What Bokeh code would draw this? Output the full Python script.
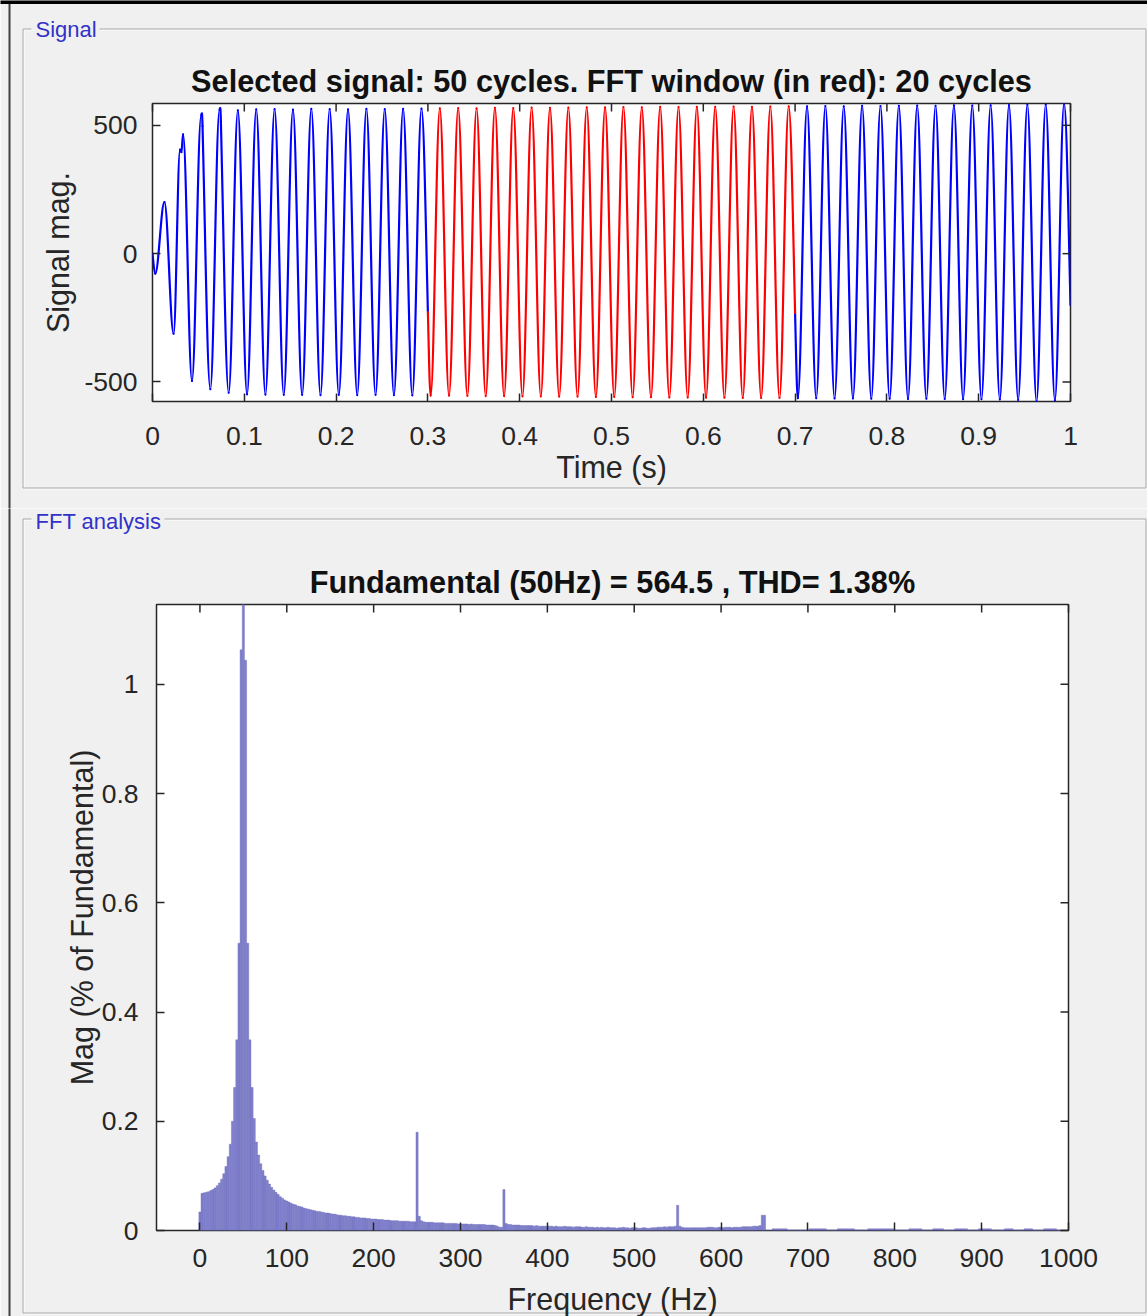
import numpy as np
from bokeh.plotting import figure
from bokeh.models import Range1d, FixedTicker, CustomJSTickFormatter, ColumnDataSource
from bokeh.layouts import column, row
from bokeh.embed import file_html
from bokeh.resources import INLINE
from bokeh.core.properties import value

# ------------------------------------------------------------------ data
# Signal panel: times (s) and magnitudes of the waveform turning points
sig_time = [
    0.000, 0.003, 0.013, 0.023, 0.030, 0.0315, 0.0333, 0.043, 0.053, 0.0545,
    0.063, 0.073, 0.0745, 0.083, 0.093, 0.103, 0.113, 0.123, 0.133, 0.143,
    0.153, 0.163, 0.173, 0.183, 0.193, 0.203, 0.213, 0.223, 0.233, 0.243,
    0.253, 0.263, 0.273, 0.283, 0.293, 0.300, 0.303, 0.313, 0.323, 0.333,
    0.343, 0.353, 0.363, 0.373, 0.383, 0.393, 0.403, 0.413, 0.423, 0.433,
    0.443, 0.453, 0.463, 0.473, 0.483, 0.493, 0.503, 0.513, 0.523, 0.533,
    0.543, 0.553, 0.563, 0.573, 0.583, 0.593, 0.603, 0.613, 0.623, 0.633,
    0.643, 0.653, 0.663, 0.673, 0.683, 0.693, 0.700, 0.703, 0.713, 0.723,
    0.733, 0.743, 0.753, 0.763, 0.773, 0.783, 0.793, 0.803, 0.813, 0.823,
    0.833, 0.843, 0.853, 0.863, 0.873, 0.883, 0.893, 0.903, 0.913, 0.923,
    0.933, 0.943, 0.953, 0.963, 0.973, 0.983, 0.993, 1.000,
]
sig_mag = [
    0, -78, 201, -312, 405, 395, 465, -496, 539, 497,
    -528, 561, 515, -542, 558, -548, 562, -549, 563, -550,
    561, -550, 564, -551, 563, -550, 562, -551, 564, -550,
    563, -551, 564, -552, 565, -228, -553, 566, -553, 567,
    -554, 566, -555, 568, -555, 567, -556, 569, -556, 568,
    -557, 569, -557, 570, -558, 570, -558, 571, -559, 570,
    -559, 572, -560, 571, -560, 572, -561, 572, -561, 573,
    -562, 572, -562, 573, -562, 574, -232, -563, 574, -563,
    575, -564, 574, -564, 576, -565, 575, -565, 576, -566,
    577, -565, 576, -566, 578, -567, 577, -567, 578, -568,
    579, -570, 580, -576, 581, -571, 585, -200,
]
fft_window = [0.3, 0.7]
sig_xticks = [0, 0.1, 0.2, 0.3, 0.4, 0.5, 0.6, 0.7, 0.8, 0.9, 1]
sig_yticks = [-500, 0, 500]
sig_title = "Selected signal: 50 cycles. FFT window (in red): 20 cycles"

# FFT panel: magnitude per 2.5 Hz bin
fft_bin_hz = 2.5
fft_mag_000 = [
    0.034, 0.068, 0.069, 0.070, 0.071, 0.073, 0.075, 0.078, 0.082, 0.087,
    0.094, 0.104, 0.117, 0.135, 0.158, 0.200, 0.262, 0.349, 0.526, 1.063,
    1.146, 1.044, 0.526, 0.349, 0.262, 0.205, 0.162, 0.138, 0.122, 0.110,
    0.100, 0.092, 0.085, 0.079, 0.074, 0.070, 0.066, 0.062, 0.059, 0.056,
]
fft_mag_100 = [
    0.054, 0.052, 0.050, 0.048, 0.047, 0.045, 0.044, 0.043, 0.041, 0.040,
    0.039, 0.038, 0.037, 0.036, 0.035, 0.035, 0.034, 0.033, 0.032, 0.032,
    0.031, 0.030, 0.030, 0.029, 0.028, 0.028, 0.027, 0.027, 0.026, 0.026,
    0.025, 0.025, 0.024, 0.024, 0.023, 0.023, 0.023, 0.022, 0.022, 0.021,
]
fft_mag_200 = [
    0.021, 0.021, 0.020, 0.020, 0.020, 0.019, 0.019, 0.019, 0.018, 0.018,
    0.018, 0.018, 0.017, 0.017, 0.017, 0.017, 0.017, 0.016, 0.016, 0.016,
    0.180, 0.026, 0.018, 0.016, 0.015, 0.015, 0.015, 0.015, 0.014, 0.014,
    0.014, 0.014, 0.014, 0.013, 0.013, 0.013, 0.013, 0.013, 0.013, 0.012,
]
fft_mag_300 = [
    0.012, 0.012, 0.012, 0.012, 0.011, 0.012, 0.011, 0.011, 0.011, 0.011,
    0.011, 0.011, 0.010, 0.010, 0.010, 0.010, 0.009, 0.008, 0.006, 0.006,
    0.075, 0.013, 0.011, 0.011, 0.010, 0.010, 0.010, 0.010, 0.009, 0.009,
    0.009, 0.009, 0.009, 0.009, 0.008, 0.009, 0.008, 0.008, 0.008, 0.008,
]
fft_mag_400 = [
    0.008, 0.008, 0.008, 0.007, 0.008, 0.007, 0.007, 0.007, 0.008, 0.007,
    0.007, 0.007, 0.006, 0.007, 0.007, 0.007, 0.006, 0.006, 0.007, 0.006,
    0.006, 0.006, 0.005, 0.006, 0.005, 0.006, 0.005, 0.005, 0.006, 0.005,
    0.005, 0.005, 0.004, 0.005, 0.005, 0.006, 0.005, 0.005, 0.004, 0.005,
]
fft_mag_500 = [
    0.005, 0.005, 0.004, 0.004, 0.005, 0.005, 0.004, 0.004, 0.005, 0.005,
    0.005, 0.006, 0.006, 0.006, 0.007, 0.006, 0.007, 0.007, 0.007, 0.008,
    0.046, 0.008, 0.006, 0.005, 0.005, 0.005, 0.005, 0.005, 0.005, 0.005,
    0.005, 0.005, 0.005, 0.005, 0.006, 0.006, 0.006, 0.005, 0.005, 0.006,
]
fft_mag_600 = [
    0.006, 0.005, 0.006, 0.006, 0.006, 0.005, 0.006, 0.006, 0.006, 0.006,
    0.007, 0.007, 0.007, 0.007, 0.007, 0.008, 0.008, 0.008, 0.009, 0.028,
    0.028, 0.000, 0.000, 0.000, 0.003, 0.003, 0.003, 0.003, 0.003, 0.003,
    0.003, 0.001, 0.001, 0.001, 0.001, 0.001, 0.001, 0.001, 0.001, 0.001,
]
fft_mag_700 = [
    0.001, 0.003, 0.003, 0.003, 0.003, 0.003, 0.003, 0.003, 0.003, 0.001,
    0.001, 0.001, 0.001, 0.001, 0.003, 0.003, 0.003, 0.003, 0.003, 0.003,
    0.003, 0.003, 0.001, 0.001, 0.001, 0.001, 0.001, 0.001, 0.003, 0.003,
    0.003, 0.003, 0.003, 0.003, 0.003, 0.003, 0.003, 0.003, 0.003, 0.003,
]
fft_mag_800 = [
    0.001, 0.001, 0.001, 0.001, 0.001, 0.001, 0.001, 0.003, 0.003, 0.003,
    0.003, 0.003, 0.003, 0.001, 0.001, 0.001, 0.001, 0.001, 0.003, 0.003,
    0.003, 0.003, 0.003, 0.001, 0.001, 0.001, 0.001, 0.001, 0.003, 0.003,
    0.003, 0.003, 0.003, 0.003, 0.001, 0.001, 0.001, 0.001, 0.001, 0.003,
]
fft_mag_900 = [
    0.003, 0.003, 0.003, 0.003, 0.003, 0.001, 0.001, 0.001, 0.001, 0.001,
    0.001, 0.003, 0.003, 0.003, 0.003, 0.001, 0.001, 0.001, 0.001, 0.001,
    0.003, 0.003, 0.003, 0.003, 0.001, 0.001, 0.001, 0.001, 0.001, 0.003,
    0.003, 0.003, 0.003, 0.003, 0.003, 0.001, 0.001, 0.001, 0.001, 0.001,
]
fft_mag_1000 = [0.001]
fft_xticks = [0, 100, 200, 300, 400, 500, 600, 700, 800, 900, 1000]
fft_yticks = [0, 0.2, 0.4, 0.6, 0.8, 1]
fft_title = "Fundamental (50Hz) = 564.5 , THD= 1.38%"

# ------------------------------------------------------------------ style
FONT = "Liberation Sans"
AX = "#262626"
BG = "#f0f0f0"
GROUP_BLUE = "#3232c8"
TICK_PX = "26.5px"
LABEL_PX = "30.5px"
TITLE_PX = "30.7px"


def style_axis(ax, ticks, standoff):
    ax.ticker = FixedTicker(ticks=ticks)
    ax.formatter = CustomJSTickFormatter(code="return String(tick);")
    ax.axis_line_color = None
    ax.major_tick_in = 8
    ax.major_tick_out = 0
    ax.major_tick_line_color = AX
    ax.major_tick_line_width = 1.5
    ax.minor_tick_line_color = None
    ax.major_label_text_font = FONT
    ax.major_label_text_color = AX
    ax.major_label_text_font_size = TICK_PX
    ax.major_label_standoff = standoff
    ax.axis_label_text_font = FONT
    ax.axis_label_text_font_style = "normal"
    ax.axis_label_text_font_size = LABEL_PX
    ax.axis_label_text_color = AX


def base_figure(fw, fh, left, right, top, bottom, xr, yr, title, title_standoff):
    p = figure(frame_width=fw, frame_height=fh,
               min_border_left=left, min_border_right=right,
               min_border_top=top, min_border_bottom=bottom,
               x_range=xr, y_range=yr, title=title,
               output_backend="svg", toolbar_location=None,
               background_fill_color="white", border_fill_color=BG)
    p.grid.visible = False
    p.outline_line_color = AX
    p.outline_line_width = 1.5
    p.title.text_font = FONT
    p.title.text_font_size = TITLE_PX
    p.title.text_font_style = "bold"
    p.title.text_color = "#111111"
    p.title.align = "center"
    p.title.standoff = title_standoff
    return p


def mirror_ticks(p, xticks, yticks):
    # box-style tick marks on the top and right edges (MATLAB "box on")
    xr, yr = p.x_range, p.y_range
    p.ray(x=xticks, y=[yr.end] * len(xticks), length=8, length_units="screen",
          angle=-np.pi / 2, line_color=AX, line_width=1.5, level="overlay")
    p.ray(x=[xr.end] * len(yticks), y=yticks, length=8, length_units="screen",
          angle=np.pi, line_color=AX, line_width=1.5, level="overlay")


def group_box(p, x0, x1, y0, y1, gap0, gap1, label, label_y, left_line, top_bar=False):
    # etched frame around a panel, drawn in page-pixel coordinates
    segs_x = [[x0, gap0], [gap1, x1], [x0, x0], [x1, x1], [x0, x1]]
    segs_y = [[y0, y0], [y0, y0], [y0, y1], [y0, y1], [y1, y1]]
    kw = dict(x_range_name="px", y_range_name="px", level="overlay")
    p.multi_line([[a + 1 for a in s] for s in segs_x], [[a + 1 for a in s] for s in segs_y],
                 line_color="white", line_width=1, **kw)
    p.multi_line(segs_x, segs_y, line_color="#a9a9a9", line_width=1, **kw)
    p.line(x=[9, 9], y=left_line, line_color="#404040", line_width=2, **kw)
    if top_bar:
        p.quad(left=[0], right=[1147], top=[0], bottom=[3.5], fill_color="black",
               line_color=None, **kw)
    p.text(x=[35], y=[label_y], text=[label], text_font=value(FONT),
           text_font_size="22px", text_color=GROUP_BLUE,
           text_align="left", text_baseline="alphabetic", **kw)


# ------------------------------------------------------------------ signal plot
p1 = base_figure(918, 298, 152, 77, 103, 107,
                 Range1d(0, 1), Range1d(-576, 585), sig_title, 9)
p1.extra_x_ranges = {"px": Range1d(152, 1070)}
p1.extra_y_ranges = {"px": Range1d(401, 103)}

style_axis(p1.xaxis[0], sig_xticks, 25)
style_axis(p1.yaxis[0], sig_yticks, 15)
p1.xaxis[0].axis_label = "Time (s)"
p1.xaxis[0].axis_label_standoff = 2
p1.yaxis[0].axis_label = "Signal mag."
p1.yaxis[0].axis_label_standoff = 6

# smooth curve through the turning points (horizontal tangent at peaks)
t = np.array(sig_time, dtype=float)
v = np.array(sig_mag, dtype=float)
n = len(t)
slope = np.zeros(n)
for i in range(n):
    if 0 < i < n - 1 and (v[i] - v[i - 1]) * (v[i + 1] - v[i]) <= 0:
        slope[i] = 0.0
    else:
        a, b = max(i - 1, 0), min(i + 1, n - 1)
        slope[i] = 1.3 * (v[b] - v[a]) / (t[b] - t[a])
d = 0.3634 * np.diff(t)
w0, w1 = fft_window
seg = dict(x0=t[:-1], y0=v[:-1], x1=t[1:], y1=v[1:],
           cx0=t[:-1] + d, cy0=v[:-1] + d * slope[:-1],
           cx1=t[1:] - d, cy1=v[1:] - d * slope[1:])
in_win = (t[:-1] >= w0) & (t[1:] <= w1)
for mask, col in ((~in_win, "#0000ff"), (in_win, "#ff0000")):
    src = ColumnDataSource({k: np.asarray(val)[mask] for k, val in seg.items()})
    p1.bezier(x0="x0", y0="y0", x1="x1", y1="y1", cx0="cx0", cy0="cy0",
              cx1="cx1", cy1="cy1", source=src, line_color=col, line_width=2.2,
              line_cap="round")

mirror_ticks(p1, sig_xticks, sig_yticks)
group_box(p1, 22.5, 1145.5, 28.5, 487.5, 31, 99, "Signal", 29, [3, 508], top_bar=True)

# ------------------------------------------------------------------ FFT plot
fft_mag = (fft_mag_000 + fft_mag_100 + fft_mag_200 + fft_mag_300 + fft_mag_400 +
           fft_mag_500 + fft_mag_600 + fft_mag_700 + fft_mag_800 + fft_mag_900 +
           fft_mag_1000)
fft_freq = np.arange(len(fft_mag)) * fft_bin_hz

p2 = base_figure(912, 626, 156, 79, 96, 86,
                 Range1d(-50, 1000), Range1d(0, max(fft_mag)), fft_title, 10)
p2.extra_x_ranges = {"px": Range1d(156, 1068)}
p2.extra_y_ranges = {"px": Range1d(1230, 604)}

style_axis(p2.xaxis[0], fft_xticks, 18)
style_axis(p2.yaxis[0], fft_yticks, 18)
p2.yaxis[0].axis_label = "Mag (% of Fundamental)"
p2.yaxis[0].axis_label_standoff = 0

p2.vbar(x=fft_freq, top=fft_mag, bottom=0, width=fft_bin_hz,
        fill_color="#8080cc", line_color="#6a6abb", line_width=0.4)

mirror_ticks(p2, fft_xticks, fft_yticks)
group_box(p2, 22.5, 1145.5, 518.5, 1312.5, 31, 164, "FFT analysis", 521, [508, 1316])
p2.text(x=[612], y=[1298], text=["Frequency (Hz)"], text_font=value(FONT),
        text_font_size=LABEL_PX, text_color=AX, text_align="center",
        text_baseline="alphabetic", x_range_name="px", y_range_name="px",
        level="overlay")

layout = column(row(p1), row(p2), spacing=0)
open("out.html", "w").write(file_html(layout, INLINE))
